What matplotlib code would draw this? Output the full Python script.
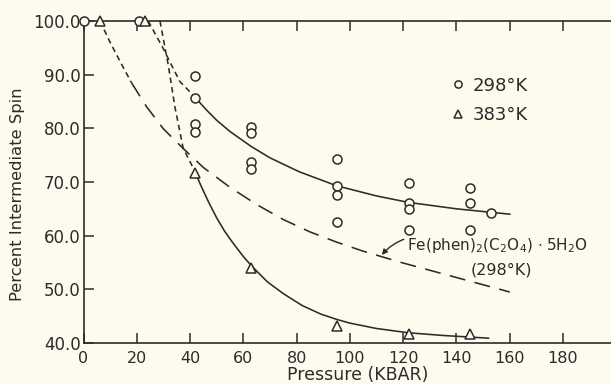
import matplotlib
matplotlib.use("Agg")
from matplotlib import pyplot as plt

# measured points, 298 K (circles) and 383 K (triangles)
p298 = [0, 21, 42, 42, 42, 42, 63, 63, 63, 63, 95, 95, 95, 95,
        122, 122, 122, 122, 145, 145, 145, 153]
s298 = [100, 100, 89.7, 85.7, 80.8, 79.4, 80.3, 79.2, 73.8, 72.5, 74.3, 69.2, 67.6, 62.5,
        69.8, 66.0, 65.0, 61.0, 68.9, 66.0, 61.0, 64.2]
p383 = [6, 23, 42, 63, 95, 122, 145]
s383 = [100, 100, 71.7, 54.0, 43.2, 41.6, 41.7]

# hand-drawn curves
fit298_x = [42, 46, 50, 55, 63, 70, 81, 95, 110, 122, 140, 160]
fit298_y = [85.7, 83.5, 81.5, 79.4, 76.6, 74.5, 71.9, 69.3, 67.4, 66.2, 65.0, 64.0]
ext298_x = [24.3, 27, 29.9, 33, 36.2, 41.5]
ext298_y = [100, 97.5, 94.9, 91.8, 88.7, 86.0]

fit383_x = [42, 44, 47, 50, 53, 56, 60, 63, 69, 75, 82, 89, 95, 100, 110, 122, 135, 152]
fit383_y = [71.7, 69.4, 66.2, 63.3, 60.8, 58.7, 56.1, 54.4, 51.4, 49.2, 47.0, 45.4, 44.4,
            43.7, 42.7, 41.9, 41.4, 40.9]
ext383_x = [28.7, 31.8, 34.3, 37.4, 41.5]
ext383_y = [100, 91.8, 84.0, 76.3, 72.3]

fe_short_x = [6.2, 10, 14, 18]
fe_short_y = [100, 96, 92.2, 88.5]
fe_long_x = [18, 23.7, 30, 37.3, 45, 55, 65, 75, 85, 95, 105, 120, 140, 160]
fe_long_y = [88.5, 84.0, 79.9, 76.3, 72.7, 69.0, 65.8, 63.0, 60.7, 58.8, 57.1, 54.9, 52.2, 49.5]

ink = "#2b2b2b"
bg = "#fcfbee"

plt.rcParams["font.family"] = "DejaVu Sans"
plt.rcParams["text.color"] = ink
plt.rcParams["axes.labelcolor"] = ink
plt.rcParams["xtick.color"] = ink
plt.rcParams["ytick.color"] = ink

fig = plt.figure(figsize=(6.11, 3.84), dpi=100, facecolor=bg)
ax = fig.add_axes([0.1367, 0.1068, 0.8633, 0.8385])
ax.set_facecolor(bg)

lw = 1.15
ax.plot(fit298_x, fit298_y, color=ink, lw=lw)
ax.plot(ext298_x, ext298_y, color=ink, lw=lw, dashes=(3.5, 2.5))
ax.plot(fit383_x, fit383_y, color=ink, lw=lw)
ax.plot(ext383_x, ext383_y, color=ink, lw=lw, dashes=(3.5, 2.5))
ax.plot(fe_short_x, fe_short_y, color=ink, lw=lw, dashes=(3.5, 2.5))
ax.plot(fe_long_x, fe_long_y, color=ink, lw=lw, dashes=(10, 6))

ax.plot(p298, s298, "o", ms=6.5, mfc=bg, mec=ink, mew=1.1, ls="none",
        clip_on=False, zorder=5, label="298°K")
ax.plot(p383, s383, "^", ms=7, mfc=bg, mec=ink, mew=1.1, ls="none",
        clip_on=False, zorder=5, label="383°K")

ax.legend(loc="upper left", bbox_to_anchor=(0.68, 0.855), frameon=False,
          fontsize=13, handlelength=0.8, handletextpad=0.4, labelspacing=0.62,
          borderpad=0, markerscale=0.8)

ax.annotate("", xy=(111.3, 56.0), xytext=(121.2, 59.5),
            arrowprops=dict(arrowstyle="-|>", color=ink, lw=1.0,
                            mutation_scale=8, connectionstyle="arc3,rad=0.15"))
ax.text(121.5, 58.2, r"Fe(phen)$_2$(C$_2$O$_4$) $\cdot$ 5H$_2$O",
        fontsize=11, va="center", ha="left")
ax.text(157, 53.6, "(298°K)", fontsize=11.5, va="center", ha="center")

ax.set_xlim(0, 198)
ax.set_ylim(40, 100)
ax.set_xticks(range(0, 200, 20))
ax.set_yticks(range(40, 101, 10))
ax.set_yticklabels([f"{v:.1f}" for v in range(40, 101, 10)])
ax.tick_params(axis="both", direction="in", length=7, width=1.1)
ax.tick_params(axis="y", labelsize=12, pad=2)
ax.tick_params(axis="x", top=True, labelsize=11.5, pad=6)

ax.spines["right"].set_visible(False)
for s in ["left", "bottom", "top"]:
    ax.spines[s].set_color(ink)
    ax.spines[s].set_linewidth(1.2)

ax.set_xlabel("Pressure (KBAR)", fontsize=12.5)
ax.set_ylabel("Percent Intermediate Spin", fontsize=11.8)
ax.xaxis.set_label_coords(0.52, -0.072)
ax.yaxis.set_label_coords(-0.111, 0.463)

fig.savefig("out.png", dpi=100, facecolor=bg)
